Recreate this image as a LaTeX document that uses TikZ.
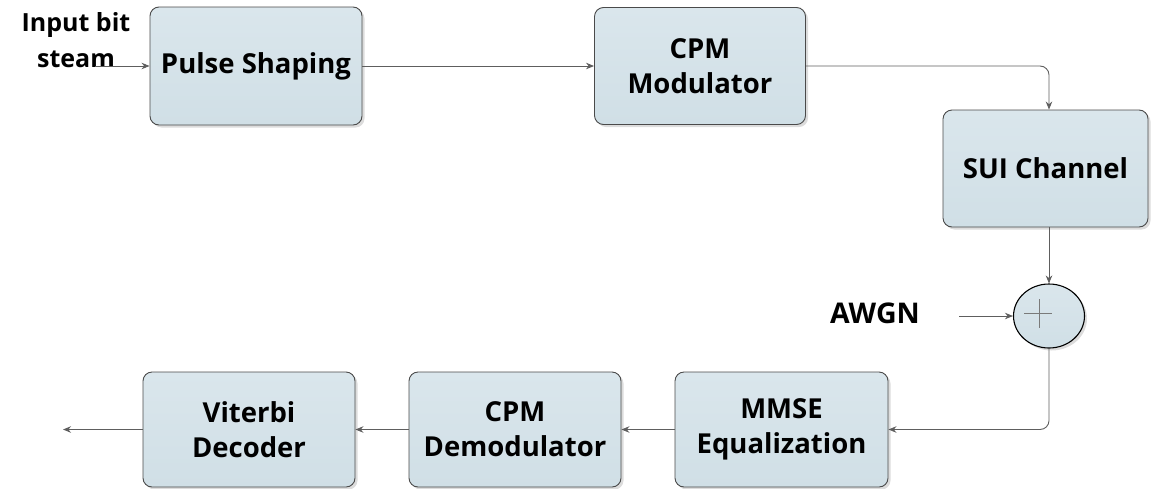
\documentclass[tikz,border=0pt]{standalone}
\usepackage{fontspec}
\setmainfont{Open Sans}
\usetikzlibrary{arrows.meta,shadows,shapes.geometric,calc}

\definecolor{boxfill}{HTML}{D0DFE6}
\definecolor{boxtop}{HTML}{DAE6EC}
\definecolor{boxline}{HTML}{4A4A4A}
\definecolor{wire}{HTML}{5E5E5E}
\definecolor{plusline}{HTML}{7A7A7A}

\tikzset{
  blockbox/.style={
    rectangle, rounded corners=9pt, draw=boxline, line width=0.9pt,
    top color=boxtop, bottom color=boxfill,
    drop shadow={shadow xshift=2.5pt, shadow yshift=-2.5pt, opacity=0.28},
    align=center, inner sep=2pt,
    font=\fontsize{27.5}{35}\selectfont\bfseries
  },
  sumnode/.style={
    ellipse, draw=black, line width=1.1pt,
    top color=boxtop, bottom color=boxfill,
    drop shadow={shadow xshift=2.5pt, shadow yshift=-2.5pt, opacity=0.28},
    minimum width=71pt, minimum height=64pt, inner sep=0pt
  },
  plaintext/.style={align=center, inner sep=0pt,
    font=\fontsize{25}{36}\selectfont\bfseries},
  wireline/.style={draw=wire, line width=0.9pt,
    -{Stealth[length=8pt,width=6.5pt]}},
}

\begin{document}
\begin{tikzpicture}[x=1pt,y=-1pt]
  \useasboundingbox (0,0) rectangle (1151,488);

  % transmitter chain
  \node[blockbox, minimum width=212pt, minimum height=118pt] (ps) at (256,66) {Pulse Shaping};
  \node[blockbox, minimum width=211pt, minimum height=117pt] (mod) at (700,66) {CPM\\Modulator};
  \node[blockbox, minimum width=205pt, minimum height=117pt] (sui) at (1045.5,168.5) {SUI Channel};

  % noise adder
  \node[sumnode] (sum) at (1049,316) {};
  \draw[plusline, line width=0.8pt] ($(sum.center)+(-25,-3)$) -- ($(sum.center)+(3,-3)$);
  \draw[plusline, line width=0.8pt] ($(sum.center)+(-10,-17)$) -- ($(sum.center)+(-10,12)$);
  \node[plaintext, font=\fontsize{28.5}{36}\selectfont\bfseries] (awgn) at (875,313) {AWGN};
  \coordinate (awgnin) at (959,316);

  % receiver chain
  \node[blockbox, minimum width=213pt, minimum height=115pt] (mmse) at (781.5,429.5) {MMSE\\Equalization};
  \node[blockbox, minimum width=212pt, minimum height=115pt] (demod) at (515,429.5) {CPM\\Demodulator};
  \node[blockbox, minimum width=212pt, minimum height=115pt] (vit) at (249,429.5) {Viterbi\\Decoder};

  % input and output
  \node[plaintext] (inlabel) at (76,40) {Input bit\\steam};
  \coordinate (src) at (95,66);
  \coordinate (sink) at (63,429.5);

  % connectors
  \draw[wireline] (src) -- (ps.west);
  \draw[wireline] (ps.east) -- (mod.west);
  \draw[wireline, rounded corners=9pt] (mod.east) -| (sui.north -| sum.north);
  \draw[wireline] (sui.south -| sum.north) -- (sum.north);
  \draw[wireline] (awgnin) -- (sum.west);
  \draw[wireline, rounded corners=9pt] (sum.south) |- (mmse.east);
  \draw[wireline] (mmse.west) -- (demod.east);
  \draw[wireline] (demod.west) -- (vit.east);
  \draw[wireline] (vit.west) -- (sink);
\end{tikzpicture}
\end{document}
